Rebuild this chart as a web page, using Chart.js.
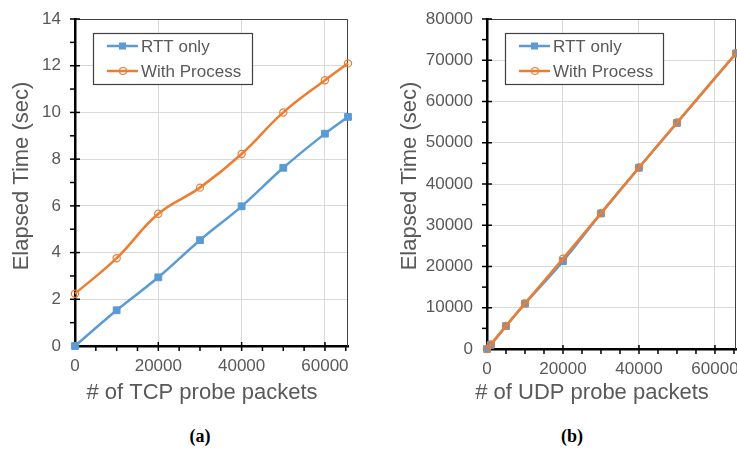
<!DOCTYPE html>
<html>
<head>
<meta charset="utf-8">
<script src="https://cdn.jsdelivr.net/npm/chart.js@4.4.1/dist/chart.umd.min.js"></script>
<style>
  html, body { margin: 0; padding: 0; width: 737px; height: 449px; overflow: hidden; background: #fff; }
  .panel { position: absolute; top: 0; }
  .cap { position: absolute; top: 426px; width: 60px; text-align: center; line-height: 22px;
         font: bold 18px "Liberation Serif", "DejaVu Serif", serif; color: #000; }
</style>
</head>
<body>
<div class="panel" style="left:0"><canvas id="tcp" width="360" height="415"></canvas></div>
<div class="panel" style="left:380px"><canvas id="udp" width="400" height="415"></canvas></div>
<div class="cap" style="left:170px">(a)</div>
<div class="cap" style="left:542px">(b)</div>
<script>
// values
const seriesNames = ['RTT only', 'With Process'];

const tcpPackets = [0, 10000, 20000, 30000, 40000, 50000, 60000, 65536];
const tcpRttOnly = [0, 1.53, 2.94, 4.53, 5.98, 7.63, 9.09, 9.81];
const tcpWithProcess = [2.24, 3.76, 5.66, 6.78, 8.22, 10.0, 11.38, 12.1];
const tcpXTicks = [0, 20000, 40000, 60000];

const udpPackets = [0, 1000, 5000, 10000, 20000, 30000, 40000, 50000, 65536];
const udpRttOnly = [0, 1000, 5550, 11000, 21300, 32850, 43950, 54800, 71650];
const udpWithProcess = [0, 1100, 5600, 11050, 21900, 32950, 44000, 54900, 71700];
const udpXTicks = [0, 20000, 40000, 60000];

const BLUE = '#5b9bd5';
const ORANGE = '#ed7d31';
const GREY = '#595959';
const FONT = '"Liberation Sans", Arial, sans-serif';

Chart.defaults.font.family = FONT;
Chart.defaults.color = GREY;

// tick marks, plot frame, axis titles and boxed legend
const decor = {
  id: 'decor',
  beforeDatasetsDraw(chart, args, o) {
    const { ctx, chartArea: a, scales: { x, y } } = chart;
    ctx.save();
    ctx.strokeStyle = '#404040';
    ctx.lineWidth = 1;
    ctx.beginPath();
    ctx.moveTo(a.left, a.top + 0.5);
    ctx.lineTo(a.right - 0.5, a.top + 0.5);
    ctx.lineTo(a.right - 0.5, a.bottom);
    ctx.stroke();

    ctx.strokeStyle = '#000';
    ctx.lineWidth = 1.5;
    for (let v = o.xMinor; v < x.max; v += o.xMinor) {
      const px = x.getPixelForValue(v);
      const major = v % o.xMajor === 0;
      ctx.beginPath();
      ctx.moveTo(px, a.bottom - (major ? 4 : 0));
      ctx.lineTo(px, a.bottom + 5);
      ctx.stroke();
    }
    for (let v = o.yMinor; v <= y.max; v += o.yMinor) {
      const py = y.getPixelForValue(v);
      const major = v % o.yMajor === 0;
      ctx.beginPath();
      ctx.moveTo(a.left - 5, py);
      ctx.lineTo(a.left + (major ? 5 : 0), py);
      ctx.stroke();
    }
    ctx.restore();
  },
  afterDraw(chart, args, o) {
    const { ctx, chartArea: a } = chart;
    ctx.save();
    ctx.fillStyle = GREY;
    ctx.font = '22px ' + FONT;
    ctx.textAlign = 'center';
    ctx.textBaseline = 'middle';
    ctx.fillText(o.xTitle, o.xTitleAt[0], o.xTitleAt[1]);
    ctx.translate(o.yTitleAt[0], o.yTitleAt[1]);
    ctx.rotate(-Math.PI / 2);
    ctx.fillText(o.yTitle, 0, 0);
    ctx.restore();

    // legend box
    const bx = a.left + 18, by = a.top + 14, bw = o.legendWidth, bh = 51;
    ctx.save();
    ctx.fillStyle = '#fff';
    ctx.fillRect(bx, by, bw, bh);
    ctx.strokeStyle = '#404040';
    ctx.lineWidth = 1.2;
    ctx.strokeRect(bx + 0.5, by + 0.5, bw, bh);
    ctx.font = '17px ' + FONT;
    ctx.textBaseline = 'middle';
    chart.data.datasets.forEach((ds, i) => {
      const ly = by + 13 + i * 25;
      ctx.strokeStyle = ds.borderColor;
      ctx.lineWidth = 2.5;
      ctx.beginPath();
      ctx.moveTo(bx + 14, ly);
      ctx.lineTo(bx + 45, ly);
      ctx.stroke();
      if (ds.pointStyle === 'rect') {
        ctx.fillStyle = ds.borderColor;
        ctx.fillRect(bx + 26, ly - 3.5, 7, 7);
      } else {
        ctx.lineWidth = 1.2;
        ctx.fillStyle = '#fff';
        ctx.beginPath();
        ctx.arc(bx + 30, ly, 3.5, 0, Math.PI * 2);
        ctx.stroke();
      }
      ctx.fillStyle = GREY;
      ctx.fillText(ds.label, bx + 48, ly + 1);
    });
    ctx.restore();
  }
};

function lineSet(label, xs, ys, color, marker, order) {
  const isRect = marker === 'rect';
  return {
    label,
    data: xs.map((v, i) => ({ x: v, y: ys[i] })),
    borderColor: color,
    borderWidth: 2.5,
    tension: 0.4,
    pointStyle: marker,
    pointRadius: isRect ? 4.8 : 3.6,
    pointBorderWidth: isRect ? 1 : 1.2,
    pointBackgroundColor: isRect ? color : 'rgba(255,255,255,0)',
    pointBorderColor: color,
    clip: false,
    order
  };
}

function build(id, p) {
  const tickFont = { size: 17 };
  return new Chart(document.getElementById(id), {
    type: 'line',
    data: {
      datasets: [
        lineSet(seriesNames[0], p.xs, p.rtt, BLUE, 'rect', 1),
        lineSet(seriesNames[1], p.xs, p.proc, ORANGE, 'circle', 0)
      ]
    },
    options: {
      responsive: false,
      animation: false,
      devicePixelRatio: 1,
      layout: { padding: { top: 19, right: p.padRight, left: 0, bottom: 0 } },
      plugins: {
        legend: { display: false },
        tooltip: { enabled: false },
        decor: p.decor
      },
      scales: {
        x: {
          type: 'linear',
          min: 0,
          max: 65536,
          afterBuildTicks: s => { s.ticks = p.xTicks.map(v => ({ value: v })); },
          afterFit: s => { s.height = p.xHeight; s.paddingLeft = 0; s.paddingRight = 0; },
          ticks: { font: tickFont, padding: 10, maxRotation: 0, callback: v => String(v) },
          grid: { color: '#d9d9d9', lineWidth: 1, drawTicks: false },
          border: { color: '#000', width: 2.5 }
        },
        y: {
          min: 0,
          max: p.yMax,
          afterFit: s => { s.width = p.yWidth; s.paddingTop = 0; s.paddingBottom = 0; },
          ticks: { font: tickFont, stepSize: p.yStep, padding: 14, callback: v => String(v) },
          grid: { color: '#d9d9d9', lineWidth: 1, drawTicks: false },
          border: { color: '#000', width: 2.5 }
        }
      }
    },
    plugins: [decor]
  });
}

build('tcp', {
  xs: tcpPackets, rtt: tcpRttOnly, proc: tcpWithProcess, xTicks: tcpXTicks,
  yMax: 14, yStep: 2, yWidth: 75, xHeight: 69, padRight: 12,
  decor: {
    xMinor: 5000, xMajor: 20000, yMinor: 1, yMajor: 2,
    xTitle: '# of TCP probe packets', xTitleAt: [202, 393],
    yTitle: 'Elapsed Time (sec)', yTitleAt: [22, 176],
    legendWidth: 159
  }
});

build('udp', {
  xs: udpPackets, rtt: udpRttOnly, proc: udpWithProcess, xTicks: udpXTicks,
  yMax: 80000, yStep: 10000, yWidth: 107, xHeight: 66, padRight: 44,
  decor: {
    xMinor: 5000, xMajor: 20000, yMinor: 5000, yMajor: 10000,
    xTitle: '# of UDP probe packets', xTitleAt: [212, 393],
    yTitle: 'Elapsed Time (sec)', yTitleAt: [30, 176],
    legendWidth: 158
  }
});
</script>
</body>
</html>
